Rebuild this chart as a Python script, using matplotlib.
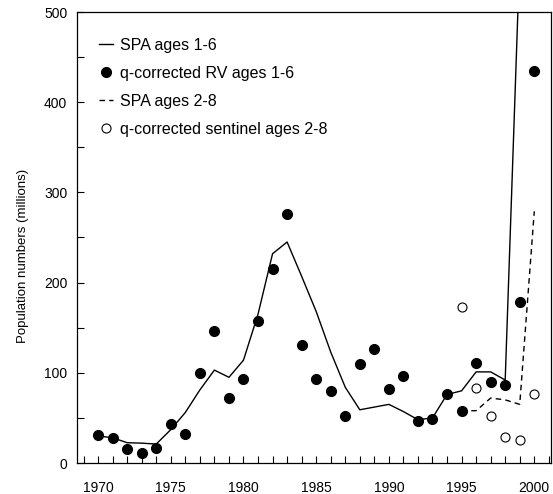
import matplotlib
matplotlib.use("Agg")
import matplotlib.pyplot as plt
from matplotlib.ticker import MultipleLocator

plt.rcParams['font.family'] = ['Liberation Sans', 'DejaVu Sans']

# --- data -------------------------------------------------------------
years_rv = list(range(1970, 2001))
rv_ages_1_6 = [31, 28, 16, 11, 17, 43, 32, 100, 146, 72,
               93, 157, 215, 276, 131, 93, 80, 52, 110, 126,
               82, 97, 47, 49, 77, 58, 111, 90, 87, 179, 435]

years_spa16 = list(range(1970, 2000))
spa_ages_1_6 = [30, 28, 22.5, 22, 21, 37, 56, 81, 103, 95,
                114, 165, 232, 245, 207, 168, 123, 84, 59, 62,
                65, 57, 48, 50, 76, 80, 101, 101, 92, 560]

years_spa28 = list(range(1995, 2001))
spa_ages_2_8 = [58, 58, 72, 70, 65, 279]

years_sent = list(range(1995, 2001))
sentinel_ages_2_8 = [173, 83, 52, 29, 26, 77]

x_major = [1970, 1975, 1980, 1985, 1990, 1995, 2000]
y_major = [0, 100, 200, 300, 400, 500]

# --- figure -----------------------------------------------------------
W, H = 553, 494
fig = plt.figure(figsize=(W / 100, H / 100), dpi=100)
ax = fig.add_axes([77 / W, 31 / H, (551 - 77) / W, (463 - 12) / H])

ax.plot(years_spa16, spa_ages_1_6, color='black', lw=1.0, zorder=2,
        label='SPA ages 1-6')
ax.plot(years_rv, rv_ages_1_6, linestyle='none', marker='o', ms=7,
        mfc='black', mec='black', zorder=3, label='q-corrected RV ages 1-6')
ax.plot(years_spa28, spa_ages_2_8, color='black', lw=1.0,
        linestyle=(0, (4, 3)), zorder=2, label='SPA ages 2-8')
ax.plot(years_sent, sentinel_ages_2_8, linestyle='none', marker='o', ms=6.5,
        mfc='white', mec='black', mew=0.8, zorder=3,
        label='q-corrected sentinel ages 2-8')

ax.set_xlim(1968.55, 2001.15)
ax.set_ylim(0, 500)

ax.set_xticks(x_major)
ax.set_xticklabels([str(v) for v in x_major])
ax.xaxis.set_minor_locator(MultipleLocator(1))
ax.set_yticks(y_major)
ax.set_yticklabels([str(v) for v in y_major])
ax.yaxis.set_minor_locator(MultipleLocator(50))

ax.tick_params(axis='both', which='both', direction='in', length=5,
               width=0.8, colors='black', labelsize=10)
ax.tick_params(axis='x', which='major', pad=13)
ax.tick_params(axis='y', which='major', pad=7)
ax.tick_params(top=False, right=False, which='both')

for s in ax.spines.values():
    s.set_linewidth(0.9)
    s.set_color('black')

fig.text(23 / W, 1 - 256 / H, 'Population numbers (millions)',
         rotation=90, ha='center', va='center', fontsize=9.5)

leg = ax.legend(loc='upper left', bbox_to_anchor=(0.046, 0.943),
                frameon=False, fontsize=11.5, borderpad=0, borderaxespad=0,
                handlelength=0.9, handletextpad=0.4, labelspacing=0.82,
                numpoints=1)

fig.savefig('out.png', dpi=100)
